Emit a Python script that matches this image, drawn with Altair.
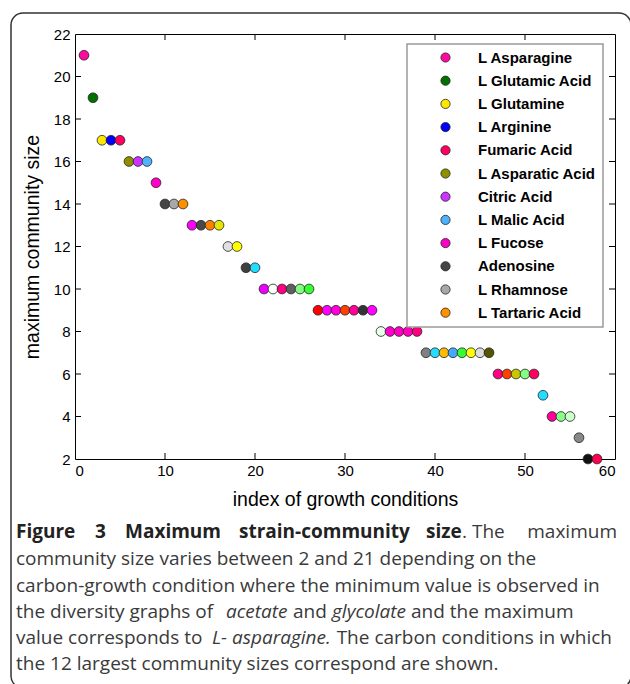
import altair as alt
import pandas as pd

# ---------------- data ----------------
index = list(range(1, 59))
community_size = [21, 19, 17, 17, 17, 16, 16, 16, 15, 14, 14, 14,
                  13, 13, 13, 13, 12, 12, 11, 11,
                  10, 10, 10, 10, 10, 10,
                  9, 9, 9, 9, 9, 9, 9,
                  8, 8, 8, 8, 8,
                  7, 7, 7, 7, 7, 7, 7, 7,
                  6, 6, 6, 6, 6,
                  5, 4, 4, 4, 3, 2, 2]
point_colors = ["#ff0aa0", "#007000", "#ffe800", "#0000ff", "#ff0060",
                "#8f8f00", "#cc33ff", "#4db3ff", "#ff00c8", "#454545",
                "#a8a8a8", "#ff9000",
                "#ff00ff", "#484848", "#ff8000", "#e6e600",
                "#e0e0e0", "#ffff00",
                "#404040", "#22ddff",
                "#ee00ff", "#ffffff", "#ff0080", "#606060", "#80ff80", "#33ff33",
                "#ff0000", "#ff00ff", "#ff00dd", "#ff4000", "#ff0099", "#333333", "#ff00ff",
                "#e8ffe8", "#ff00cc", "#ff00c0", "#ff00bb", "#ff0080",
                "#808080", "#22ddff", "#ffbb00", "#44aaff", "#33ff33", "#ffff00", "#dddddd", "#555500",
                "#ff0080", "#ff4000", "#c8c800", "#80ff80", "#ff0060",
                "#22ddff", "#ff0099", "#88ff88", "#ccffcc", "#888888", "#111111", "#ff0050"]
legend_names = ["L Asparagine", "L Glutamic Acid", "L Glutamine", "L Arginine",
                "Fumaric Acid", "L Asparatic Acid", "Citric Acid", "L Malic Acid",
                "L Fucose", "Adenosine", "L Rhamnose", "L Tartaric Acid"]

x_ticks = [0, 10, 20, 30, 40, 50, 60]
y_ticks = [2, 4, 6, 8, 10, 12, 14, 16, 18, 20, 22]

x_title = "index of growth conditions"
y_title = "maximum community size"

caption_bold = ["Figure", "3", "Maximum", "strain-community", "size"]
caption_l1 = [". The", "maximum"]
caption_l2 = "community size varies between 2 and 21 depending on the"
caption_l3 = "carbon-growth condition where the minimum value is observed in"
caption_l4 = ["the diversity graphs of", "acetate", "and", "glycolate", "and the maximum"]
caption_l5 = ["value corresponds to", "L- asparagine.", " The carbon conditions in which"]
caption_l6 = "the 12 largest community sizes correspond are shown."

# keys: labelled conditions by name, others by colour
keys = [legend_names[i] if i < len(legend_names) else point_colors[i] for i in range(len(index))]
df = pd.DataFrame({"idx": index, "size": community_size, "key": keys, "color": point_colors})
domain, rng = [], []
for k, c in zip(keys, point_colors):
    if k not in domain:
        domain.append(k)
        rng.append(c)

W, H = 540, 425
FONT = "Liberation Sans"
CAP = "Open Sans"
CAPSIZE = 19

xs = alt.Scale(domain=[0, 60], nice=False, zero=False)
ys = alt.Scale(domain=[2, 22], nice=False, zero=False)

one = alt.Data(values=[{}])

frame = alt.Chart(one).mark_rect(fillOpacity=0, stroke="#333333", strokeWidth=1.5,
                                 cornerRadius=12).encode(
    x=alt.value(-64), x2=alt.value(556), y=alt.value(-21), y2=alt.value(654))

xt = pd.DataFrame({"v": x_ticks[1:-1]})
yt = pd.DataFrame({"v": y_ticks[1:-1]})
tick_bottom = alt.Chart(xt).mark_rule(color="#000", strokeWidth=1).encode(
    x=alt.X("v:Q", scale=xs), y=alt.value(H), y2=alt.value(H - 6))
tick_top = alt.Chart(xt).mark_rule(color="#000", strokeWidth=1).encode(
    x=alt.X("v:Q", scale=xs), y=alt.value(0), y2=alt.value(6))
tick_left = alt.Chart(yt).mark_rule(color="#000", strokeWidth=1).encode(
    y=alt.Y("v:Q", scale=ys), x=alt.value(0), x2=alt.value(6))
tick_right = alt.Chart(yt).mark_rule(color="#000", strokeWidth=1).encode(
    y=alt.Y("v:Q", scale=ys), x=alt.value(W), x2=alt.value(W - 6))

points = alt.Chart(df).mark_circle(size=95, opacity=1, stroke="#222222", strokeWidth=0.8).encode(
    x=alt.X("idx:Q", scale=xs,
            axis=alt.Axis(values=x_ticks, title=x_title, ticks=False, domain=False, grid=False,
                          labelFont=FONT, labelFontSize=15, labelColor="#000", labelPadding=4,
                          titleFont=FONT, titleFontSize=19.5, titleFontWeight="normal",
                          titleColor="#000", titlePadding=12)),
    y=alt.Y("size:Q", scale=ys,
            axis=alt.Axis(values=y_ticks, title=y_title, ticks=False, domain=False, grid=False,
                          labelFont=FONT, labelFontSize=15, labelColor="#000", labelPadding=5,
                          titleFont=FONT, titleFontSize=19.5, titleFontWeight="normal",
                          titleColor="#000", titlePadding=11)),
    fill=alt.Fill("key:N", scale=alt.Scale(domain=domain, range=rng),
                  legend=alt.Legend(values=legend_names, title=None, orient="none",
                                    legendX=332, legendY=10, padding=6, rowPadding=7.2,
                                    symbolSize=85, symbolType="circle",
                                    symbolStrokeColor="#222222", symbolStrokeWidth=0.8,
                                    symbolOffset=25, labelOffset=25,
                                    labelFont=FONT, labelFontSize=15, labelFontWeight="bold",
                                    labelColor="#000", fillColor="#ffffff",
                                    strokeColor="#9a9a9a")),
    order=alt.Order("idx:Q"),
)


def txt(s, x, y, weight="normal", style="normal", align="left", color="#3a3a3a", size=CAPSIZE):
    return alt.Chart(one).mark_text(text=s, font=CAP, fontSize=size, fontWeight=weight,
                                    fontStyle=style, align=align, baseline="middle",
                                    color=color).encode(x=alt.value(x - 75), y=alt.value(y - 34))


line_y = [532, 559, 586, 612, 638, 664]
caps = []
bold_x = [16, 95, 125, 239, 426]
for s, x in zip(caption_bold, bold_x):
    caps.append(txt(s, x, line_y[0], weight="bold", color="#222222"))
caps.append(txt(caption_l1[0], 462, line_y[0]))
caps.append(txt(caption_l1[1], 617, line_y[0], align="right"))
caps.append(txt(caption_l2, 16, line_y[1]))
caps.append(txt(caption_l3, 16, line_y[2]))
l4x = [16, 226, 293, 332, 411]
l4s = ["normal", "italic", "normal", "italic", "normal"]
for s, x, st in zip(caption_l4, l4x, l4s):
    caps.append(txt(s, x, line_y[3], style=st))
caps.append(txt(caption_l5[0], 16, line_y[4]))
caps.append(txt(caption_l5[1], 212, line_y[4], style="italic"))
caps.append(txt(caption_l5[2], 612, line_y[4], align="right"))
caps.append(txt(caption_l6, 16, line_y[5]))

chart = alt.layer(frame, tick_bottom, tick_top, tick_left, tick_right, points, *caps).properties(
    width=W, height=H,
    autosize=alt.AutoSizeParams(type="none"),
    padding={"left": 75, "top": 34, "right": 15, "bottom": 225},
    background="#ffffff",
).configure_view(stroke="#000000", strokeWidth=1).configure_legend(strokeWidth=1.5)

chart.save("out.html", embed_options={"renderer": "svg", "actions": False})
